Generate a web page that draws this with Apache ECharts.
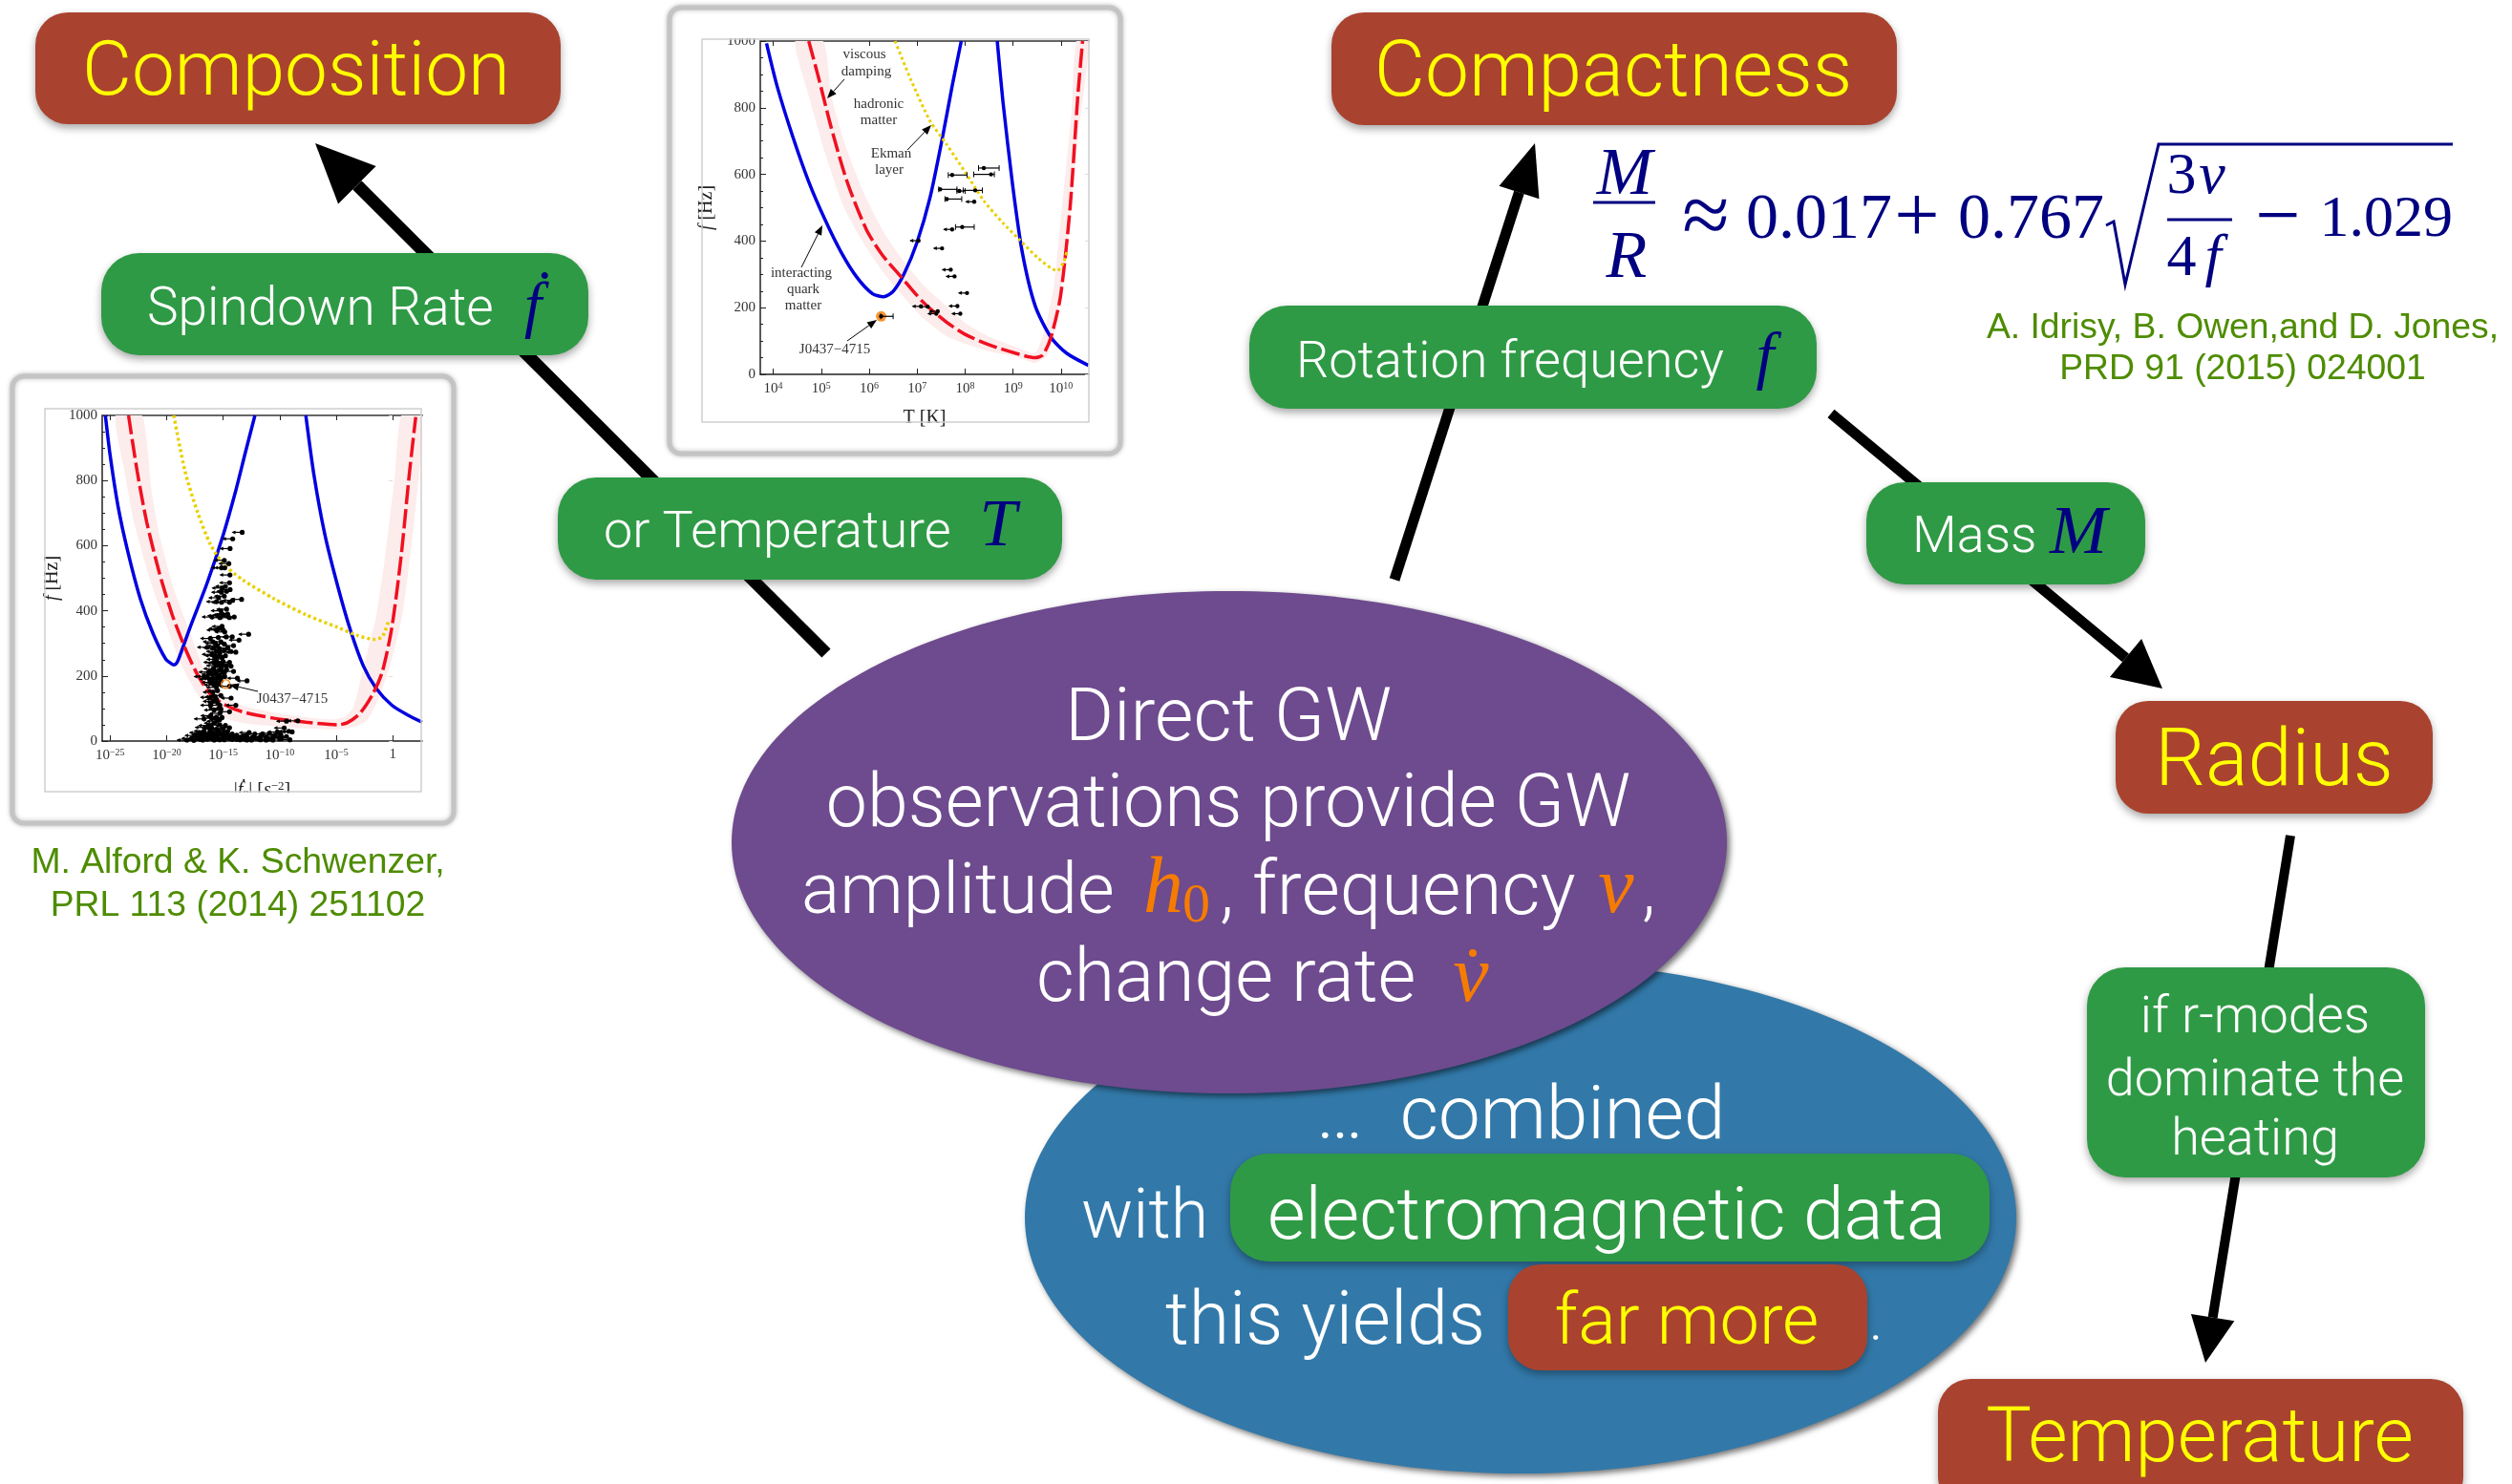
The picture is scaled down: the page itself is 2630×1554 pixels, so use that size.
<!DOCTYPE html>
<html>
<head>
<meta charset="utf-8">
<title>GW observations</title>
<script src="https://cdn.jsdelivr.net/npm/echarts@6/dist/echarts.min.js"></script>
<style>
  html, body { margin: 0; padding: 0; background: #fff; }
  #chart { width: 2630px; height: 1554px; }
</style>
</head>
<body>
<div id="chart"></div>
<script>
// x values are log10 of the quantity on the axis, y values are Hz

// left plot: spindown rate
const spinTicks = [-25, -20, -15, -10, -5, 0];
const spinBlueLow = [[-25.42,1000],[-25,878],[-24.3,721],[-23.45,584],[-22.33,437],[-21.2,330],[-20.07,251],[-19.6,238],[-19.37,234],[-19.15,238],[-18.95,251],[-17.82,359],[-16.41,486],[-15,633],[-13.88,770],[-13.03,887],[-12.19,1000]];
const spinBlueHigh = [[-7.69,1000],[-6.98,819],[-6,633],[-4.87,476],[-3.74,340],[-2.62,232],[-1.49,163],[-0.08,110],[1.32,80],[2.59,58]];
const spinRed = [[-23.37,1000],[-22.61,829],[-21.76,672],[-20.64,516],[-19.51,388],[-18.38,286],[-17.26,203],[-16.13,144],[-15,114],[-13.32,90],[-10.5,70],[-7.69,58],[-4.87,50],[-4.03,56],[-2.9,85],[-1.77,144],[-0.93,212],[-0.08,349],[0.76,574],[1.46,819],[2.03,995]];
const spinBand = [[-24.52,1000],[-23.73,829],[-22.89,672],[-21.48,496],[-20.07,359],[-18.67,232],[-17.26,144],[-15.57,80],[-13.32,56],[-10.5,46],[-7.69,38],[-4.87,36],[-3.74,41],[-2.34,61],[-1.21,134],[-0.08,251],[0.9,398],[1.89,672],[2.59,1000],[0.76,1000],[0.2,819],[-0.65,574],[-1.49,379],[-2.62,222],[-3.46,105],[-4.31,73],[-5.43,66],[-7.69,73],[-10.5,87],[-13.32,110],[-15,139],[-16.69,222],[-18.1,349],[-19.37,467],[-20.64,633],[-21.34,770],[-22.18,1000]];
const spinYellow = [[-19.37,1000],[-18.38,829],[-17.26,702],[-16.13,604],[-15,545],[-13.32,496],[-10.5,437],[-7.69,388],[-4.87,349],[-3.18,325],[-1.63,312],[-0.93,320],[-0.37,369]];
const spinPulsars = [[-13.32,641],[-14.16,621],[-14.39,591],[-14.5,545],[-14.86,532],[-15.15,532],[-14.44,486],[-14.39,465],[-15.15,457],[-14.7,460],[-13.37,435],[-14.16,432],[-15.15,426],[-14.44,426],[-15.6,428],[-14.02,381],[-15,388],[-14.44,379],[-15.29,379],[-15.99,381],[-15.5,385],[-14.6,390],[-15,341],[-15.57,341],[-14.86,335],[-12.75,328],[-13.6,310],[-14.72,320],[-15.43,318],[-16.13,315],[-14.2,320],[-14.08,293],[-14.58,286],[-13.88,273],[-15.85,286],[-16.41,288],[-15.29,271],[-15.99,266],[-14.3,275],[-15.57,251],[-15.1,255],[-14.44,242],[-15,244],[-15.85,242],[-14.3,230],[-15.15,227],[-15.85,222],[-14.08,214],[-15,212],[-16.27,212],[-15.6,205],[-12.89,185],[-13.74,193],[-14.86,198],[-15.57,193],[-16.41,198],[-16.69,198],[-15.2,185],[-16,180],[-14.44,168],[-15.6,165],[-14.3,132],[-15.71,136],[-16.13,134],[-15.2,140],[-13.88,110],[-15.29,110],[-16.13,110],[-15.5,118],[-14.44,90],[-15.29,85],[-15.99,70],[-16.69,68],[-15.57,61],[-15.1,72],[-14.44,41],[-15.57,36],[-16.69,31],[-17.1,26],[-17.5,17],[-15,38],[-16,40],[-15.9,26],[-15.3,24],[-14.6,30],[-14.2,22],[-16.5,18],[-17,12],[-17.8,8],[-18.2,3],[-17.6,2],[-17,5],[-16.4,6],[-16,10],[-15.5,14],[-15,10],[-14.5,8],[-14,12],[-13.5,4],[-13,8],[-12.7,26],[-12.2,22],[-11.9,8],[-11.5,22],[-11.2,12],[-10.9,24],[-10.4,18],[-10,6],[-9.9,20],[-9.6,40],[-9.2,30],[-9.1,4],[-8.9,28],[-9.4,61],[-8.4,62],[-10.6,3],[-11.7,4],[-12.5,3],[-13.2,16],[-14.9,4],[-15.8,3],[-16.8,3],
  [-15.7,300],[-15.2,305],[-14.9,298],[-15.5,292],[-15.9,305],[-15.3,282],[-15.6,275],[-14.9,278],[-15.7,262],[-15.3,262],[-14.8,262],[-15.5,240],[-15.1,236],[-14.7,232],[-15.6,232],[-15.3,218],[-14.7,220],[-16,205],[-15.3,202],[-14.9,208],[-15.7,212],[-15.9,192],[-15.2,195],[-16.2,190],[-15.6,180],[-15.8,172],[-15.4,175],[-15.5,155],[-15.9,150],[-15.6,128],[-15.9,122],[-15.4,100],[-15.8,95],[-15.2,98],[-16.1,78],[-15.6,74],[-15.3,66],[-15.8,55],[-16.3,48],[-16.6,42],[-15.3,50],[-14.8,48],[-16.9,20],[-16.2,26],[-15.6,20],[-15.1,18],[-14.7,18],[-16.2,12],[-15.7,6],[-15.3,4],[-14.2,5],[-13.8,5],[-12.9,3],[-12.1,8],[-11.2,3],[-16.6,12],
  [-15.4,345],[-15.1,352],[-15.2,400],[-14.7,405],[-15.4,440],[-14.9,445],[-14.8,475],[-15.1,470],[-14.9,555],[-14.4,510],[-17.2,8],[-16.7,22],[-16,18],[-15.4,32],[-14.9,26],[-14.4,16],[-13.8,18],[-13.4,12],[-12.9,14],[-12.4,12],[-11.7,14],[-11,6],[-10.6,12],[-10.2,28],[-9.8,10],[-9.4,14]];
const spinPulsarArrow = 0.85;
const spinOrange = [[-14.78,175]];

// right plot: temperature
const tempTicks = [4, 5, 6, 7, 8, 9, 10];
const tempBlueLow = [[3.86,993],[4.08,865],[4.41,712],[4.74,578],[5.08,464],[5.41,368],[5.74,292],[6.07,242],[6.3,233],[6.5,249],[6.73,302],[7,397],[7.27,531],[7.53,712],[7.73,865],[7.92,1000]];
const tempBlueHigh = [[8.67,1000],[8.79,817],[8.99,569],[9.19,368],[9.46,206],[9.79,111],[10.12,63],[10.57,27]];
const tempRed = [[4.74,1000],[4.94,893],[5.21,740],[5.54,578],[5.94,435],[6.27,359],[6.67,292],[7.13,216],[7.6,158],[8,120],[8.53,87],[9.06,63],[9.46,50],[9.62,58],[9.79,111],[9.99,235],[10.19,502],[10.35,836],[10.45,1000]];
const tempBand = [[4.46,1000],[4.74,836],[5.08,664],[5.47,502],[5.87,397],[6.27,311],[6.67,240],[7.13,168],[7.6,115],[8,92],[8.53,68],[9.06,52],[9.46,34],[9.72,58],[9.92,168],[10.12,378],[10.38,740],[10.58,1000],[10.32,1000],[10.22,788],[10.02,502],[9.85,263],[9.65,130],[9.46,65],[9.06,82],[8.53,111],[8,154],[7.6,206],[7.13,268],[6.67,349],[6.27,435],[5.87,550],[5.47,702],[5.21,836],[5.04,1000]];
const tempYellow = [[6.54,1000],[6.87,884],[7.27,760],[7.6,693],[8,607],[8.39,521],[8.79,454],[9.12,406],[9.52,349],[9.92,311],[10.05,335],[10.12,368]];
const tempLimits = [[8.19,518],[7.73,435],[7.03,401],[7.52,378],[7.7,314],[7.78,294],[8.04,244],[7.08,204],[7.22,203],[7.84,205],[7.43,189],[7.4,182],[7.9,182]];
const tempLimitArrow = 0.17;
// low edge, dot, high edge, frequency
const tempBars = [[8.28,8.39,8.71,619],[7.65,7.73,8.04,598],[8.18,8.54,8.61,600],[7.45,7.48,7.83,555],[7.83,7.88,8,550],[7.96,8.21,8.36,552],[7.58,7.62,7.93,526],[7.8,7.94,8.19,442],[6.24,6.25,6.5,174]];
const tempOrange = [[6.25,174]];

const RED = '#a9432f', GREEN = '#2f9a45', PURPLE = '#6e4a8e', BLUE = '#3279a9';
const NAVY = '#000080', YELLOW = '#ffff00', ORANGE = '#f57c00', CITE = '#4e8c00';
const SANS = 'Roboto', SERIF = '"Liberation Serif"';

const chart = echarts.init(document.getElementById('chart'));

// pulsar upper limit: dot with an arrow running to the left
function limitItem(length, radius) {
  return function (params, api) {
    const p = api.coord([api.value(0), api.value(1)]);
    const q = api.coord([api.value(0) - length, api.value(1)]);
    return {
      type: 'group',
      children: [
        { type: 'line', shape: { x1: p[0], y1: p[1], x2: q[0], y2: q[1] }, style: { stroke: '#000', lineWidth: 1.2 } },
        { type: 'polygon', shape: { points: [[q[0] - 1, q[1]], [q[0] + 3, q[1] - 2], [q[0] + 3, q[1] + 2]] }, style: { fill: '#000' } },
        { type: 'circle', shape: { cx: p[0], cy: p[1], r: radius }, style: { fill: '#000' } }
      ]
    };
  };
}

function barItem(params, api) {
  const y = api.value(3);
  const a = api.coord([api.value(0), y]);
  const d = api.coord([api.value(1), y]);
  const b = api.coord([api.value(2), y]);
  return {
    type: 'group',
    children: [
      { type: 'line', shape: { x1: a[0], y1: a[1], x2: b[0], y2: b[1] }, style: { stroke: '#000', lineWidth: 1.2 } },
      { type: 'line', shape: { x1: a[0], y1: a[1] - 3, x2: a[0], y2: a[1] + 3 }, style: { stroke: '#000', lineWidth: 1 } },
      { type: 'line', shape: { x1: b[0], y1: b[1] - 3, x2: b[0], y2: b[1] + 3 }, style: { stroke: '#000', lineWidth: 1 } },
      { type: 'circle', shape: { cx: d[0], cy: d[1], r: 2.2 }, style: { fill: '#000' } }
    ]
  };
}

function bandSeries(points, idx) {
  return {
    type: 'custom',
    xAxisIndex: idx,
    yAxisIndex: idx,
    silent: true,
    clip: true,
    z: 2,
    data: [points[0]],
    renderItem: function (params, api) {
      return {
        type: 'polygon',
        shape: { points: points.map(p => api.coord(p)), smooth: 0.2 },
        style: { fill: '#fdecec' }
      };
    }
  };
}

function curve(points, idx, color, width, dash, z) {
  return {
    type: 'line',
    xAxisIndex: idx,
    yAxisIndex: idx,
    data: points,
    smooth: 0.25,
    showSymbol: false,
    silent: true,
    z: z,
    lineStyle: { color: color, width: width, type: dash }
  };
}

function orangeSeries(points, idx, filled) {
  return {
    type: 'scatter',
    xAxisIndex: idx,
    yAxisIndex: idx,
    data: points,
    silent: true,
    z: filled ? 4 : 6,
    symbolSize: filled ? 11 : 9,
    itemStyle: filled ? { color: ORANGE } : { color: 'transparent', borderColor: ORANGE, borderWidth: 1.5 }
  };
}

function xAxisFor(gridIndex, min, max, ticks, sign, name, nameGap) {
  const bottom = {
    type: 'value', gridIndex: gridIndex, min: min, max: max, position: 'bottom',
    axisLine: { onZero: false, lineStyle: { color: '#222', width: 1.5 } },
    axisTick: { inside: true, length: 6, customValues: ticks, lineStyle: { color: '#222' } },
    axisLabel: {
      customValues: ticks, margin: 7, color: '#333', fontFamily: SERIF,
      formatter: v => (v === 0 ? '{b|1}' : '{b|10}{s|' + (sign ? '\u2212' + Math.abs(v) : v) + '}'),
      rich: {
        b: { fontFamily: SERIF, fontSize: 15, color: '#333' },
        s: { fontFamily: SERIF, fontSize: 10, color: '#333', padding: [0, 0, 6, 0] }
      }
    },
    splitLine: { show: false },
    name: name, nameLocation: 'middle', nameGap: nameGap,
    nameTextStyle: {
      fontFamily: SERIF, fontSize: 20, color: '#222',
      rich: {
        i: { fontFamily: SERIF, fontStyle: 'italic', fontSize: 20, color: '#222' },
        r: { fontFamily: SERIF, fontSize: 20, color: '#222' },
        u: { fontFamily: SERIF, fontSize: 13, color: '#222', padding: [0, 0, 8, 0] },
        d: { fontFamily: SERIF, fontStyle: 'italic', fontSize: 12, color: '#222', padding: [7, 0, 0, 0] }
      }
    }
  };
  const top = {
    type: 'value', gridIndex: gridIndex, min: min, max: max, position: 'top',
    axisLine: { onZero: false, lineStyle: { color: '#666', width: 2 } },
    axisTick: { inside: true, length: 5, customValues: ticks, lineStyle: { color: '#222' } },
    axisLabel: { show: false },
    splitLine: { show: false }
  };
  return [bottom, top];
}

function yAxisFor(gridIndex, nameGap) {
  const left = {
    type: 'value', gridIndex: gridIndex, min: 0, max: 1000, interval: 200, position: 'left',
    axisLine: { onZero: false, lineStyle: { color: '#222', width: 1.5 } },
    axisTick: { inside: true, length: 6, lineStyle: { color: '#222' } },
    minorTick: { show: true, splitNumber: 4, length: 3, lineStyle: { color: '#222' } },
    axisLabel: { margin: 5, color: '#333', fontFamily: SERIF, fontSize: 15, formatter: v => String(v) },
    splitLine: { show: false },
    name: '{i|f} [Hz]', nameLocation: 'middle', nameGap: nameGap, nameRotate: 90,
    nameTextStyle: {
      color: '#222', fontFamily: SERIF, fontSize: 20,
      rich: {
        i: { fontFamily: SERIF, fontStyle: 'italic', fontSize: 20, color: '#222' }
      }
    }
  };
  const right = {
    type: 'value', gridIndex: gridIndex, min: 0, max: 1000, interval: 200, position: 'right',
    axisLine: { show: false },
    axisTick: { inside: true, length: 4, lineStyle: { color: '#ddd' } },
    axisLabel: { show: false },
    splitLine: { show: false }
  };
  return [left, right];
}

// slide pieces
function box(x1, y1, x2, y2, color, r, z) {
  return {
    type: 'rect', z: z || 20, silent: true,
    shape: { x: x1, y: y1, width: x2 - x1, height: y2 - y1, r: r },
    style: { fill: color, shadowBlur: 8, shadowOffsetY: 4, shadowColor: 'rgba(0,0,0,0.35)' }
  };
}

function oval(cx, cy, rx, ry, color, z) {
  return {
    type: 'ellipse', z: z, silent: true,
    shape: { cx: cx, cy: cy, rx: rx, ry: ry },
    style: { fill: color, shadowBlur: 6, shadowOffsetX: 3, shadowOffsetY: 3, shadowColor: 'rgba(0,0,0,0.55)' }
  };
}

function label(text, x, y, size, color, align, font) {
  return {
    type: 'text', z: 40, silent: true,
    style: {
      text: text, x: x, y: font ? y : y + 6, fill: color,
      font: font || ('300 ' + size + 'px ' + SANS),
      textAlign: align || 'center', textVerticalAlign: 'middle'
    }
  };
}

function math(text, x, y, size, color, align) {
  return label(text, x, y, size, color, align, 'italic ' + size + 'px ' + SERIF);
}

function roman(text, x, y, size, color, align) {
  return label(text, x, y, size, color, align, size + 'px ' + SERIF);
}

function rule(points, width, color, z) {
  return {
    type: 'polyline', z: z || 40, silent: true,
    shape: { points: points },
    style: { stroke: color, lineWidth: width, fill: null }
  };
}

function arrow(x1, y1, x2, y2, width, headLen, headWide, z) {
  const len = Math.hypot(x2 - x1, y2 - y1);
  const ux = (x2 - x1) / len, uy = (y2 - y1) / len;
  const bx = x2 - ux * headLen, by = y2 - uy * headLen;
  return [
    { type: 'line', z: z, silent: true, shape: { x1: x1, y1: y1, x2: bx, y2: by }, style: { stroke: '#000', lineWidth: width } },
    {
      type: 'polygon', z: z, silent: true,
      shape: { points: [[x2, y2], [bx - uy * headWide, by + ux * headWide], [bx + uy * headWide, by - ux * headWide]] },
      style: { fill: '#000' }
    }
  ];
}

function frame(x1, y1, x2, y2) {
  return {
    type: 'rect', z: 0, silent: true,
    shape: { x: x1, y: y1, width: x2 - x1, height: y2 - y1, r: 12 },
    style: { fill: '#fff', stroke: '#c4c4c4', lineWidth: 5, shadowBlur: 5, shadowColor: 'rgba(0,0,0,0.25)' }
  };
}

function inner(x1, y1, x2, y2) {
  return {
    type: 'rect', z: 9, silent: true,
    shape: { x: x1, y: y1, width: x2 - x1, height: y2 - y1 },
    style: { fill: null, stroke: '#cfcfcf', lineWidth: 1.5 }
  };
}

function mask(x1, y1, x2, y2) {
  return {
    type: 'rect', z: 8, silent: true,
    shape: { x: x1, y: y1, width: x2 - x1, height: y2 - y1 },
    style: { fill: '#fff' }
  };
}

const note = 15;
const cite = '37.3px "Liberation Sans"';
const graphics = [
  frame(13, 394, 475, 862),
  frame(701, 8, 1173, 475),
  mask(200, 830, 360, 852),
  mask(735, 22, 792, 40),
  inner(47, 428, 441, 829),
  inner(735, 41, 1140, 442),

  ...arrow(865, 684, 330, 150, 13, 62, 28, 10),
  ...arrow(1460, 607, 1607, 150, 11, 54, 22, 10),
  ...arrow(1917, 433, 2264, 721, 11, 50, 26, 10),
  ...arrow(2398, 875, 2309, 1427, 10, 48, 23, 10),

  ...arrow(270, 724, 240, 717, 1, 10, 4, 12),
  ...arrow(884, 83, 866, 103, 1, 10, 4, 12),
  ...arrow(950, 157, 975, 131, 1, 10, 4, 12),
  ...arrow(839, 280, 861, 236, 1, 10, 4, 12),
  ...arrow(887, 357, 918, 335, 1, 10, 4, 12),

  oval(1592, 1275, 519, 268, BLUE, 15),
  oval(1287, 882, 521, 263, PURPLE, 16),

  box(37, 13, 587, 130, RED, 34),
  box(1394, 13, 1986, 131, RED, 34),
  box(106, 265, 616, 372, GREEN, 40),
  box(584, 500, 1112, 607, GREEN, 40),
  box(1308, 320, 1902, 428, GREEN, 40),
  box(1954, 505, 2246, 612, GREEN, 40),
  box(2215, 734, 2547, 852, RED, 34),
  box(2185, 1013, 2539, 1233, GREEN, 40),
  box(2029, 1444, 2579, 1580, RED, 34),
  box(1288, 1208, 2083, 1321, GREEN, 40),
  box(1579, 1324, 1955, 1435, RED, 34),

  label('Composition', 310, 73, 80, YELLOW),
  label('Compactness', 1689, 73, 82, YELLOW),
  label('Radius', 2381, 795, 83, YELLOW),
  label('Temperature', 2303, 1504, 80, YELLOW),
  label('far more', 1766, 1382, 74, YELLOW),

  label('Spindown Rate', 154, 320, 55, '#fff', 'left'),
  math('\u1e1f', 558, 324, 66, NAVY),
  label('or Temperature', 632, 553, 54, '#fff', 'left'),
  math('T', 1045, 553, 70, NAVY),
  label('Rotation frequency', 1357, 375, 54, '#fff', 'left'),
  math('f', 1848, 377, 68, NAVY),
  label('Mass', 2002, 558, 54, '#fff', 'left'),
  math('M', 2176, 560, 72, NAVY),
  label('if r-modes', 2361, 1061, 54, '#fff'),
  label('dominate the', 2361, 1127, 54, '#fff'),
  label('heating', 2361, 1189, 54, '#fff'),

  label('Direct GW', 1286, 749, 78, '#fff'),
  label('observations provide GW', 1286, 840, 77, '#fff'),
  label('amplitude', 839, 931, 75, '#fff', 'left'),
  math('h', 1197, 933, 84, ORANGE, 'left'),
  roman('0', 1238, 950, 58, ORANGE, 'left'),
  label(', frequency', 1277, 931, 78, '#fff', 'left'),
  math('\u03bd', 1692, 933, 84, ORANGE),
  label(',', 1719, 931, 75, '#fff', 'left'),
  label('change rate', 1085, 1023, 77, '#fff', 'left'),
  math('\u03bd', 1540, 1026, 84, ORANGE),
  { type: 'circle', z: 40, silent: true, shape: { cx: 1542, cy: 998, r: 4 }, style: { fill: ORANGE } },

  label('\u2026  combined', 1592, 1166, 78, '#fff'),
  label('with', 1132, 1272, 72, '#fff', 'left'),
  label('electromagnetic data', 1682, 1272, 76.5, '#fff'),
  label('this yields', 1220, 1382, 77, '#fff', 'left'),
  label('.', 1957, 1382, 60, '#fff', 'left'),

  // formula
  math('M', 1701, 185, 70, NAVY),
  rule([[1668, 212], [1733, 212]], 3, NAVY),
  math('R', 1703, 272, 70, NAVY),
  roman('\u2248', 1786, 231, 90, NAVY),
  roman('0.017', 1828, 231, 68, NAVY, 'left'),
  roman('+', 2007, 231, 84, NAVY),
  roman('0.767', 2050, 231, 68, NAVY, 'left'),
  rule([[2205, 236], [2213, 232], [2225, 298], [2260, 151], [2568, 151]], 3, NAVY),
  roman('3', 2284, 186, 62, NAVY),
  math('\u03bd', 2316, 186, 62, NAVY),
  rule([[2269, 230], [2337, 230]], 3, NAVY),
  roman('4', 2284, 272, 62, NAVY),
  math('f', 2317, 272, 62, NAVY),
  roman('\u2212', 2385, 231, 84, NAVY),
  roman('1.029', 2568, 231, 62, NAVY, 'right'),

  // citations
  label('A. Idrisy, B. Owen,and D. Jones,', 2348, 344, 37, CITE, 'center', cite),
  label('PRD 91 (2015) 024001', 2348, 387, 37, CITE, 'center', cite),
  label('M. Alford & K. Schwenzer,', 249, 904, 37, CITE, 'center', cite),
  label('PRL 113 (2014) 251102', 249, 949, 37, CITE, 'center', cite),

  // notes inside the plots
  roman('J0437\u22124715', 306, 732, note, '#333'),
  roman('viscous', 905, 57, note, '#333'),
  roman('damping', 907, 75, note, '#333'),
  roman('hadronic', 920, 109, note, '#333'),
  roman('matter', 920, 126, note, '#333'),
  roman('Ekman', 933, 161, note, '#333'),
  roman('layer', 931, 178, note, '#333'),
  roman('interacting', 839, 286, note, '#333'),
  roman('quark', 841, 303, note, '#333'),
  roman('matter', 841, 320, note, '#333'),
  roman('J0437\u22124715', 874, 366, note, '#333')
];

const spinX = xAxisFor(0, -25.7, 2.6, spinTicks, true, '{r||}{i|\u1e1f}{d|p}{r|| [}{i|s}{u|\u22122}{r|]}', 41);
const tempX = xAxisFor(1, 3.73, 10.58, tempTicks, false, '{r|T [K]}', 36);
const spinY = yAxisFor(0, 42);
const tempY = yAxisFor(1, 46);

const option = {
  animation: false,
  backgroundColor: '#fff',
  textStyle: { fontFamily: SERIF },
  grid: [
    { left: 107, top: 435, width: 335, height: 341 },
    { left: 796, top: 43, width: 344, height: 349 }
  ],
  // index 0/1 hold the data axes, 2/3 only draw the top and right edges
  xAxis: [spinX[0], tempX[0], spinX[1], tempX[1]],
  yAxis: [spinY[0], tempY[0], spinY[1], tempY[1]],
  graphic: { elements: graphics },
  series: [
    bandSeries(spinBand, 0),
    curve(spinBlueLow, 0, '#0000e0', 3.5, 'solid', 3),
    curve(spinBlueHigh, 0, '#0000e0', 3.5, 'solid', 3),
    curve(spinRed, 0, '#f01020', 3.5, [20, 5], 4),
    curve(spinYellow, 0, '#e8d000', 3.5, [3, 3], 4),
    {
      type: 'custom', xAxisIndex: 0, yAxisIndex: 0, silent: true, z: 5,
      data: spinPulsars, renderItem: limitItem(spinPulsarArrow, 2.6)
    },
    orangeSeries(spinOrange, 0, false),

    bandSeries(tempBand, 1),
    curve(tempBlueLow, 1, '#0000e0', 3.5, 'solid', 3),
    curve(tempBlueHigh, 1, '#0000e0', 3.5, 'solid', 3),
    curve(tempRed, 1, '#f01020', 3.5, [20, 5], 4),
    curve(tempYellow, 1, '#e8d000', 3, [3, 3], 4),
    orangeSeries(tempOrange, 1, true),
    {
      type: 'custom', xAxisIndex: 1, yAxisIndex: 1, silent: true, z: 5,
      data: tempLimits, renderItem: limitItem(tempLimitArrow, 2.2)
    },
    {
      type: 'custom', xAxisIndex: 1, yAxisIndex: 1, silent: true, z: 5,
      data: tempBars, renderItem: barItem
    }
  ]
};

chart.setOption(option);
</script>
</body>
</html>
